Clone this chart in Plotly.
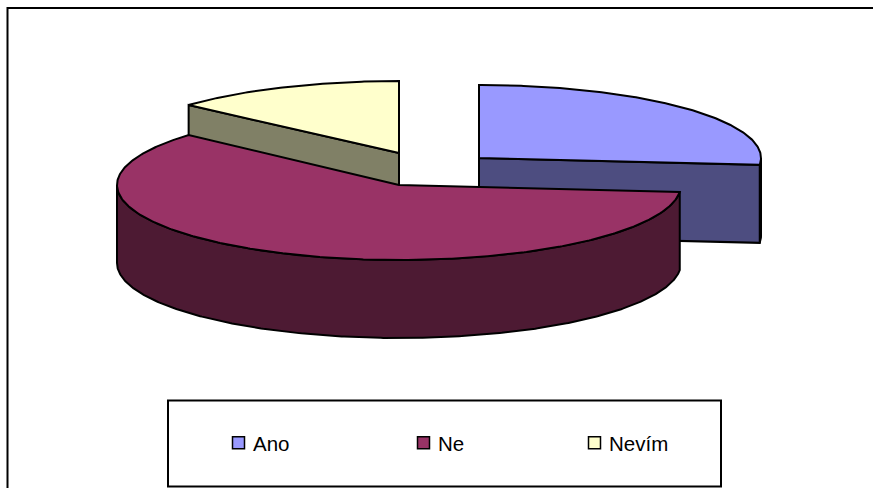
import numpy as np
import plotly.graph_objects as go

categories = ["Ano", "Ne", "Nevím"]
shares = [26.5, 60.1, 13.4]
top_colors = ["#9999FF", "#993366", "#FFFFCC"]
side_colors = ["#4D4D80", "#4D1A33", "#808066"]

# Drawing geometry of the tilted pie, in page pixels
centers = {"Ano": (479, 158), "Ne": (399, 185), "Nevím": (399, 153)}
radii_x = {"Ano": 282, "Ne": 282, "Nevím": 282}
radii_y = {"Ano": 73, "Ne": 75, "Nevím": 72}
depth = 78
OUTLINE = dict(color="black", width=2)

edges = np.cumsum([0] + shares) / sum(shares) * 360
spans = {c: (edges[i], edges[i + 1]) for i, c in enumerate(categories)}


def pt(cat, deg, drop=0.0):
    cx, cy = centers[cat]
    t = np.radians(deg)
    return cx + radii_x[cat] * np.sin(t), cy - radii_y[cat] * np.cos(t) + drop


def arc(cat, a, b, drop=0.0):
    d = np.linspace(a, b, max(2, int(abs(b - a) * 2)))
    return pt(cat, d, drop)


fig = go.Figure()


def poly(x, y, color):
    fig.add_trace(go.Scatter(
        x=list(x), y=list(y), mode="lines", fill="toself", fillcolor=color,
        line=OUTLINE, showlegend=False, hoverinfo="skip"))


def radial_face(cat, deg, color):
    cx, cy = centers[cat]
    ex, ey = pt(cat, deg)
    poly([cx, ex, ex, cx, cx], [cy, ey, ey + depth, cy + depth, cy], color)


def outer_face(cat, a, b, color):
    x1, y1 = arc(cat, a, b)
    x2, y2 = arc(cat, b, a, depth)
    poly(np.r_[x1, x2, x1[0]], np.r_[y1, y2, y1[0]], color)


def top_face(cat, a, b, color):
    cx, cy = centers[cat]
    x, y = arc(cat, a, b)
    poly(np.r_[cx, x, cx], np.r_[cy, y, cy], color)


# Nevím (back)
a, b = spans["Nevím"]
radial_face("Nevím", a, side_colors[2])
top_face("Nevím", a, b, top_colors[2])

# Ano
a, b = spans["Ano"]
outer_face("Ano", 90, b, side_colors[0])
radial_face("Ano", b, side_colors[0])
top_face("Ano", a, b, top_colors[0])

# Ne (front)
a, b = spans["Ne"]
outer_face("Ne", a, 270, side_colors[1])
top_face("Ne", a, b, top_colors[1])

# Legend entries, one legend per category so each sits at its own place
legend_names = ["legend", "legend2", "legend3"]
legend_x = [223 / 873, 408 / 873, 579 / 873]
legend_cfg = {}
for cat, col, ln, lx in zip(categories, top_colors, legend_names, legend_x):
    fig.add_trace(go.Scatter(
        x=[None], y=[None], mode="markers", name=cat, legend=ln,
        marker=dict(symbol="square", size=12, color=col,
                    line=dict(color="black", width=1.5))))
    legend_cfg[ln] = dict(
        x=lx, y=1 - 443 / 488, xanchor="left", yanchor="middle",
        bgcolor="rgba(0,0,0,0)", borderwidth=0, indentation=-10,
        font=dict(family="Liberation Sans", size=20.5, color="black"))

fig.update_layout(
    width=873, height=488, margin=dict(l=0, r=0, t=0, b=0),
    paper_bgcolor="white", plot_bgcolor="white",
    xaxis=dict(range=[0, 873], visible=False, fixedrange=True),
    yaxis=dict(range=[488, 0], visible=False, fixedrange=True),
    shapes=[
        dict(type="rect", xref="x", yref="y", x0=7.5, y0=8, x1=900, y1=520,
             line=dict(color="black", width=2), layer="below"),
        dict(type="rect", xref="x", yref="y", x0=168, y0=400.5, x1=721, y1=486.5,
             line=dict(color="black", width=2), layer="below"),
    ],
    **legend_cfg,
)

post = (
    "document.body.style.margin='0';"
    "document.documentElement.style.overflow='hidden';"
    "document.querySelectorAll('.legendsymbols').forEach("
    "function(e){e.setAttribute('transform','translate(5.5,0)');});"
)
fig.write_html("out.html", post_script=post, config={"displayModeBar": False})
